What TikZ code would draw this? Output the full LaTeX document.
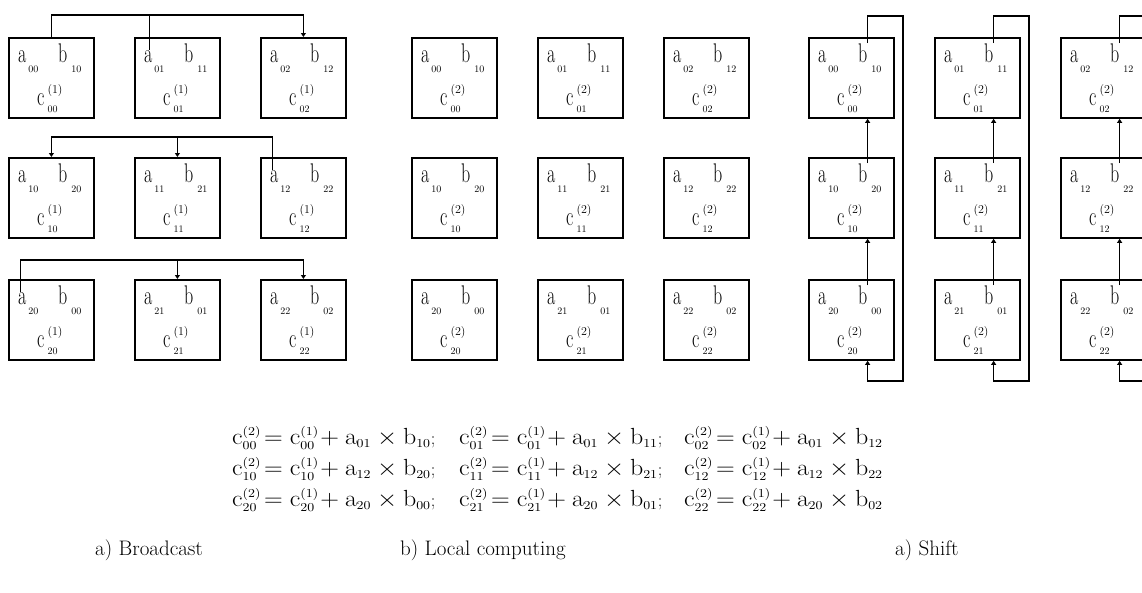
\documentclass[tikz,border=0pt]{standalone}
\usepackage{graphicx}
\usetikzlibrary{calc,arrows.meta}
\newcommand{\st}[1]{\scalebox{1}[1.5]{#1}}
\newcommand{\lsub}[2]{\rlap{\hspace{#1}\raisebox{-10pt}{\fontsize{10}{10}\selectfont #2}}}
\newcommand{\csubx}[1]{\rlap{\hspace{3pt}\raisebox{-7pt}{\fontsize{10}{10}\selectfont #1}}}
\newcommand{\csupx}[1]{\rlap{\hspace{3pt}\raisebox{12pt}{\fontsize{12}{12}\selectfont(#1)}}}
\newcommand{\mkcell}[7]{%
  \node[cellbox] (#1) at (#2,#3) {};
  \node[lt] (#1a) at ($(#1.north west)+(10,25)$) {\st{a}\lsub{2pt}{#4}};
  \node[lt] (#1b) at ($(#1.north west)+(50,25)$) {\st{b}\lsub{4pt}{#5}};
  \node[lt] (#1c) at ($(#1.north west)+(29,68)$) {\st{c}\csupx{#6}\csubx{#7}};
}
\newcommand{\eqx}[3]{\scalebox{1.5}[1.35]{$\mathrm{c}^{\scriptscriptstyle(2)}_{\scriptscriptstyle #1}\!=\mathrm{c}^{\scriptscriptstyle(1)}_{\scriptscriptstyle #1}\!+\mathrm{a}_{\scriptscriptstyle #2}\times\mathrm{b}_{\scriptscriptstyle #3}$}}
\tikzset{
  cellbox/.style={draw, line width=1.8pt, minimum width=85pt, minimum height=80pt, anchor=north west, inner sep=0pt},
  lt/.style={inner sep=0pt, anchor=base west, font=\fontsize{18}{20}\selectfont},
  ln/.style={line width=1.5pt},
  arr/.style={-{Triangle[length=4pt,width=5pt]}},
  arrs/.style={{Triangle[length=4pt,width=5pt]}-},
  eqn/.style={inner sep=0pt, anchor=base west, font=\fontsize{18}{20}\selectfont},
  capt/.style={inner sep=0pt, anchor=base west, font=\fontsize{21}{24}\selectfont},
}
\begin{document}
\begin{tikzpicture}[x=1pt,y=-1pt]
\clip (0,0) rectangle (1142,592);
\fill[white] (0,0) rectangle (1142,592);
\foreach \g/\xo/\supv in {A/8/1, B/411/2, C/808/2} {
  \foreach \r/\yy in {1/37,2/157,3/279} {
    \foreach \c in {1,2,3} {
      \pgfmathsetmacro\xx{\xo+(\c-1)*126}
      \pgfmathtruncatemacro\ri{\r-1}
      \pgfmathtruncatemacro\ci{\c-1}
      \pgfmathtruncatemacro\rb{mod(\r,3)}
      \mkcell{\g\r\c}{\xx}{\yy}{\ri\ci}{\rb\ci}{\supv}{\ri\ci}
    }
  }
}
% broadcast buses
\coordinate (bus1) at (0,15);
\coordinate (bus2) at (0,137);
\coordinate (bus3) at (0,260);
\draw[ln,arrs,arr] (A11.north) -- (A11.north |- bus1) -- (A13.north |- bus1) -- (A13.north);
\draw[ln] ($(A12a.north)+(1,0)$) -- ($(A12a.north |- bus1)+(1,0)$);
\draw[ln,arrs] (A21.north) -- (A21.north |- bus2) -- ($(A23a.north |- bus2)+(-2,0)$) -- ($(A23a.north)+(-2,0)$);
\draw[ln,arr] (A22.north |- bus2) -- (A22.north);
\draw[ln,arr] ($(A31a.north)+(-2,0)$) -- ($(A31a.north |- bus3)+(-2,0)$) -- (A33.north |- bus3) -- (A33.north);
\draw[ln,arr] (A32.north |- bus3) -- (A32.north);
% shift loops
\foreach \c in {1,2,3} {
  \coordinate (T\c) at ($(C1\c.north east)+(8,-21)$);
  \coordinate (U\c) at ($(C3\c.south east)+(8,20)$);
  \draw[ln,arr] (C1\c b.north east) -- (C1\c b.north east |- T\c) -- (T\c) -- (U\c) -- (C3\c b.north east |- U\c) -- (C3\c b.north east |- C3\c.south);
  \draw[ln,arr] (C2\c b.north east) -- (C2\c b.north east |- C1\c.south);
  \draw[ln,arr] (C3\c b.north east) -- (C3\c b.north east |- C2\c.south);
}
% equations
\node[eqn] (E11) at (232,444) {\eqx{00}{01}{10};};
\node[eqn] (E12) at (459,444) {\eqx{01}{01}{11};};
\node[eqn] (E13) at (684,444) {\eqx{02}{01}{12}};
\node[eqn] (E21) at (232,475) {\eqx{10}{12}{20};};
\node[eqn] (E22) at (459,475) {\eqx{11}{12}{21};};
\node[eqn] (E23) at (684,475) {\eqx{12}{12}{22}};
\node[eqn] (E31) at (232,506) {\eqx{20}{20}{00};};
\node[eqn] (E32) at (459,506) {\eqx{21}{20}{01};};
\node[eqn] (E33) at (684,506) {\eqx{22}{20}{02}};
% captions
\node[capt] (cap1) at (95,555) {a) Broadcast};
\node[capt] (cap2) at (400,555) {b) Local computing};
\node[capt] (cap3) at (895,555) {a) Shift};
\end{tikzpicture}
\end{document}
